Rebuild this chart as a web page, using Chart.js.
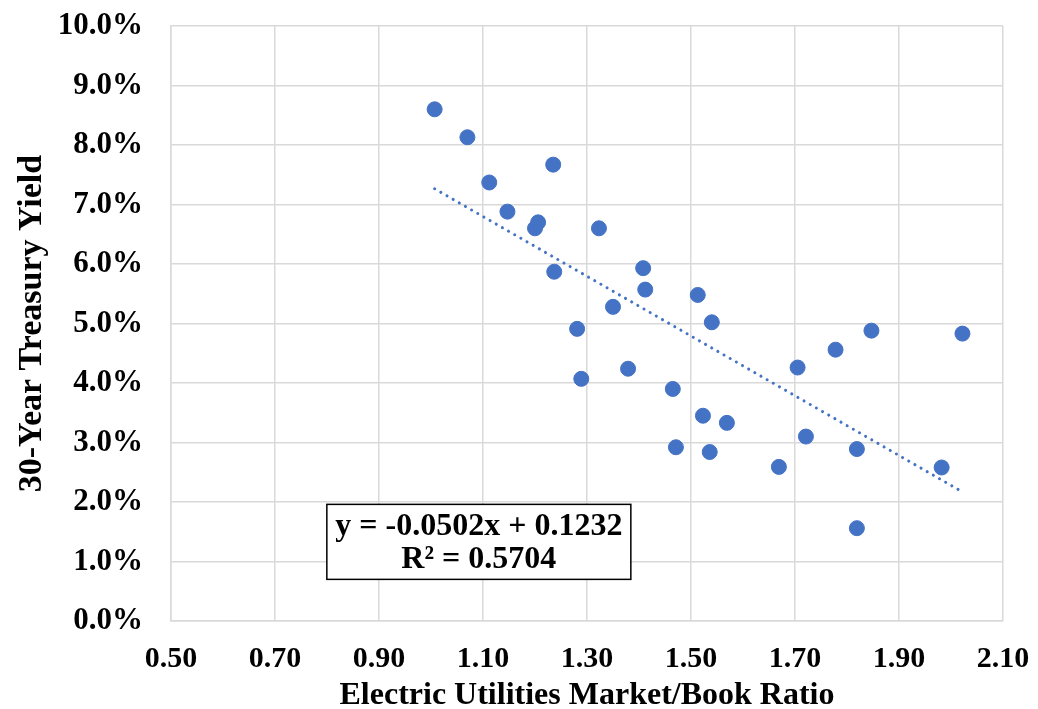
<!DOCTYPE html>
<html>
<head>
<meta charset="utf-8">
<script src="https://cdn.jsdelivr.net/npm/chart.js@4.4.1/dist/chart.umd.min.js"></script>
<style>
    html, body { margin: 0; padding: 0; background: #ffffff; }
    #wrap { width: 1038px; height: 709px; position: relative; }
</style>
</head>
<body>
<div id="wrap"><canvas id="chart" width="1038" height="709"></canvas></div>
<script>
// market/book ratio (x) and 30-year treasury yield (y, as fraction)
const marketBook = [
    1.007, 1.070, 1.112, 1.235, 1.147, 1.206, 1.200, 1.323, 1.408, 1.237,
    1.412, 1.513, 1.350, 1.540, 1.847, 2.022, 1.281, 1.778, 1.705, 1.379,
    1.289, 1.465, 1.523, 1.569, 1.721, 1.471, 1.536, 1.819, 1.669, 1.982,
    1.819
];
const treasuryYield = [
    0.0860, 0.0813, 0.0737, 0.0767, 0.0688, 0.0670, 0.0660, 0.0660, 0.0593, 0.0587,
    0.0557, 0.0548, 0.0528, 0.0502, 0.0488, 0.0483, 0.0491, 0.0456, 0.0426, 0.0424,
    0.0407, 0.0390, 0.0345, 0.0333, 0.0310, 0.0292, 0.0284, 0.0289, 0.0259, 0.0258,
    0.0156
];
const xTicks = [0.50, 0.70, 0.90, 1.10, 1.30, 1.50, 1.70, 1.90, 2.10];
const yTicks = [0, 0.01, 0.02, 0.03, 0.04, 0.05, 0.06, 0.07, 0.08, 0.09, 0.10];

// linear trend shown on the chart
const slope = -0.0502;
const intercept = 0.1232;
const rSquared = 0.5704;

const blue = "#4472C4";
const gridColor = "#d9d9d9";
const serif = "'Liberation Serif', 'Times New Roman', serif";

let points = marketBook.map((x, i) => ({ x: x, y: treasuryYield[i] }));
let xMin = Math.min(...marketBook);
let xMax = Math.max(...marketBook);
let trend = [
    { x: xMin, y: slope * xMin + intercept },
    { x: xMax, y: slope * xMax + intercept }
];

// box with the equation, anchored at a data position
const equationBox = {
    id: "equationBox",
    afterDraw(chart) {
        const ctx = chart.ctx;
        const cx = chart.scales.x.getPixelForValue(1.092);
        const cy = chart.scales.y.getPixelForValue(0.0133);
        const w = 304, h = 75;
        ctx.save();
        ctx.fillStyle = "#ffffff";
        ctx.fillRect(cx - w / 2, cy - h / 2, w, h);
        ctx.strokeStyle = "#000000";
        ctx.lineWidth = 1.5;
        ctx.strokeRect(cx - w / 2, cy - h / 2, w, h);
        ctx.fillStyle = "#000000";
        ctx.font = "bold 32px " + serif;
        ctx.textAlign = "center";
        ctx.textBaseline = "middle";
        let sign = intercept >= 0 ? "+" : "-";
        ctx.fillText("y = " + slope.toFixed(4) + "x " + sign + " " + Math.abs(intercept).toFixed(4), cx, cy - 15);
        ctx.fillText("R\u00b2 = " + rSquared.toFixed(4), cx, cy + 18);
        ctx.restore();
    }
};

let ctx = document.getElementById("chart").getContext("2d");
let chart = new Chart(ctx, {
    type: "scatter",
    data: {
        datasets: [
            {
                label: "Yield",
                data: points,
                backgroundColor: blue,
                borderColor: blue,
                pointRadius: 7.5,
                pointHoverRadius: 7.5,
                order: 1
            },
            {
                label: "Linear",
                type: "line",
                data: trend,
                borderColor: blue,
                borderWidth: 3,
                borderDash: [0.1, 7],
                borderCapStyle: "round",
                pointRadius: 0,
                fill: false,
                order: 2
            }
        ]
    },
    options: {
        responsive: false,
        animation: false,
        layout: { padding: { top: 26, right: 35, left: 0, bottom: 0 } },
        plugins: {
            legend: { display: false },
            tooltip: { enabled: false }
        },
        scales: {
            x: {
                type: "linear",
                min: 0.5,
                max: 2.1,
                afterBuildTicks: (s) => { s.ticks = xTicks.map((v) => ({ value: v })); },
                afterFit: (s) => {
                    s.height = 88;
                    s.paddingLeft = 0;
                    s.paddingRight = 0;
                },
                grid: { color: gridColor, lineWidth: 1.5, drawTicks: false },
                border: { color: gridColor, width: 1.5 },
                ticks: {
                    color: "#000000",
                    padding: 20,
                    font: { family: serif, size: 30, weight: "bold" },
                    callback: (v) => Number(v).toFixed(2)
                },
                title: {
                    display: true,
                    text: "Electric Utilities Market/Book Ratio",
                    color: "#000000",
                    padding: { top: 4, bottom: -3 },
                    font: { family: serif, size: 32, weight: "bold", lineHeight: 1.0 }
                }
            },
            y: {
                min: 0,
                max: 0.1,
                afterBuildTicks: (s) => { s.ticks = yTicks.map((v) => ({ value: v })); },
                afterFit: (s) => {
                    s.width = 171;
                    s.paddingTop = 0;
                    s.paddingBottom = 0;
                },
                grid: { color: gridColor, lineWidth: 1.5, drawTicks: false },
                border: { color: gridColor, width: 1.5 },
                ticks: {
                    color: "#000000",
                    padding: 28,
                    font: { family: serif, size: 31, weight: "bold" },
                    callback: (v) => (v * 100).toFixed(1) + "%"
                },
                title: {
                    display: true,
                    text: "30-Year Treasury Yield",
                    color: "#000000",
                    padding: { top: 12, bottom: 0 },
                    font: { family: serif, size: 34, weight: "bold" }
                }
            }
        }
    },
    plugins: [equationBox]
});
</script>
</body>
</html>
